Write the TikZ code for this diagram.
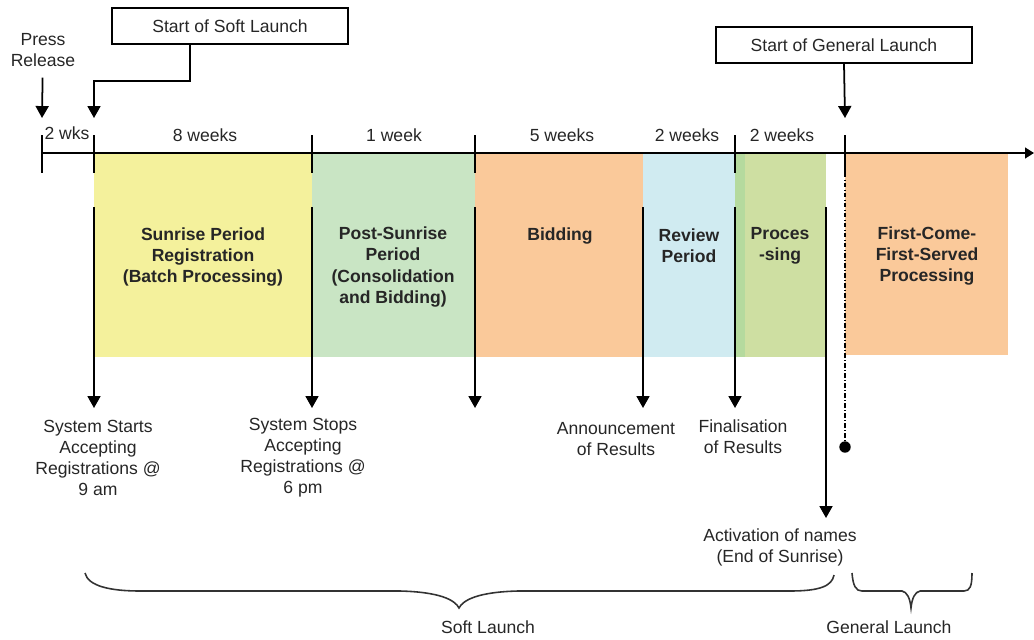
\documentclass[tikz,border=0pt]{standalone}
\usepackage{fontspec}
\setmainfont{Liberation Sans}
\usetikzlibrary{arrows.meta}
\definecolor{sunrise}{HTML}{F4F19C}
\definecolor{postsun}{HTML}{C9E5C4}
\definecolor{bidding}{HTML}{FAC99A}
\definecolor{review}{HTML}{D0EBF1}
\definecolor{procdark}{HTML}{B5DA9E}
\definecolor{proc}{HTML}{CEDFA2}
\begin{document}
\begin{tikzpicture}[x=0.02cm,y=-0.02cm,font=\fontsize{10}{12}\selectfont,text=black!85,
  txt/.style={align=center,inner sep=0},
  period/.style={align=center,inner sep=0,font=\fontsize{10}{12}\selectfont\bfseries},
  callout/.style={draw,line width=0.8pt,minimum width=#1,minimum height=0.72cm,inner sep=0},
  down/.style={line width=1pt,-{Triangle[length=6.8pt,width=7.4pt]}},
  tick/.style={line width=0.9pt},
  brc/.style={line width=0.9pt,black!80}]

\useasboundingbox (0,0) rectangle (1034,639);

% Blocks
\fill[sunrise] (94,153) rectangle (312,357);
\fill[postsun] (312,153) rectangle (475,357);
\fill[bidding] (475,153) rectangle (643,357);
\fill[review] (643,153) rectangle (735,357);
\fill[procdark] (735,153) rectangle (745,357);
\fill[proc] (745,153) rectangle (826,357);
\fill[bidding] (845,153) rectangle (1008,355);

% Timeline
\coordinate (t0) at (42,153);
\coordinate (tend) at (1034,153);
\draw[line width=1pt,-{Triangle[length=5pt,width=6pt]}] (t0) -- (tend);
\foreach \x in {42,94,312,475,735,845}
  \draw[tick] (\x,135) -- (\x,173);

% Nodes
\node[txt] (press) at (43,50) {Press\\Release};
\node[callout=4.72cm] (softbox) at (230,26) {Start of Soft Launch};
\node[callout=5.12cm] (genbox) at (844,45) {Start of General Launch};
\coordinate (pr) at (42,118);
\coordinate (sl) at (94,118);
\coordinate (gl) at (845,118);

\node[txt] (w2) at (67,133) {2 wks};
\node[txt] (w8) at (205,135) {8 weeks};
\node[txt] (w1) at (394,135) {1 week};
\node[txt] (w5) at (562,135) {5 weeks};
\node[txt] (w2a) at (687,135) {2 weeks};
\node[txt] (w2b) at (782,135) {2 weeks};

\node[period] (p1) at (203,257) {Sunrise Period\\Registration\\(Batch Processing)};
\node[period] (p2) at (393,267) {Post-Sunrise\\Period\\(Consolidation\\and Bidding)};
\node[period] (p3) at (560,236) {Bidding};
\node[period] (p4) at (689,246) {Review\\Period};
\node[period] (p5) at (780,246) {Proces\\-sing};
\node[period] (p6) at (927,256) {First-Come-\\First-Served\\Processing};

\foreach \x in {94,312,475,643,735,826}
  \coordinate (a\x) at (\x,207);
\coordinate (e94) at (94,408);
\coordinate (e312) at (312,408);
\coordinate (e475) at (475,408);
\coordinate (e643) at (643,408);
\coordinate (e735) at (735,408);
\coordinate (e826) at (826,518);
\coordinate (gtop) at (845,173);
\node[circle,fill=black,inner sep=0,minimum size=6.5pt] (gdot) at (845,447) {};

\node[txt] (l1) at (98,458) {System Starts\\Accepting\\Registrations @\\9 am};
\node[txt] (l2) at (303,458) {System Stops\\Accepting\\Registrations @\\6 pm};
\node[txt] (l3) at (616,439) {Announcement\\of Results};
\node[txt] (l4) at (743,437) {Finalisation\\of Results};
\node[txt] (l5) at (780,547) {Activation of names\\(End of Sunrise)};

\node[txt] (soft) at (488,627) {Soft Launch};
\node[txt] (gen) at (889,627) {General Launch};

%arcs
\draw[down,shorten <=6pt] (press) -- (pr);
\draw[down] ([xshift=-0.8cm]softbox.south) -- ++(0,36) -| (sl);
\path (genbox.south) edge[down] (gl);
\path (a94) edge[down] (e94);
\path (a312) edge[down] (e312);
\path (a475) edge[down] (e475);
\path (a643) edge[down] (e643);
\path (a735) edge[down] (e735);
\path (a826) edge[down] (e826);
\draw[line width=1pt,dash pattern=on 2.5pt off 1.3pt on 0.6pt off 1.3pt] (gtop) -- (gdot);

% Braces
\draw[brc] (85,573) .. controls (88,586) and (110,591) .. (140,591) -- (400,591)
  .. controls (440,592) and (455,600) .. (459,608)
  .. controls (463,600) and (478,592) .. (518,591) -- (790,591)
  .. controls (820,591) and (832,586) .. (834,575);
\draw[brc] (852,573) .. controls (853,586) and (856,591) .. (862,591) -- (902,591)
  .. controls (907,592) and (910,598) .. (911,608)
  .. controls (912,598) and (915,592) .. (920,591) -- (964,591)
  .. controls (970,591) and (972,586) .. (972,573);

\end{tikzpicture}
\end{document}
